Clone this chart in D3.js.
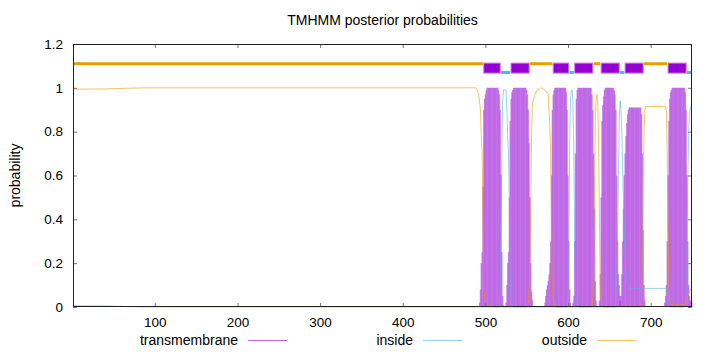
<!DOCTYPE html>
<html>
<head>
<meta charset="utf-8">
<script src="https://cdn.jsdelivr.net/npm/d3@7"></script>
<style>
  body { margin: 0; background: #fff; }
  svg { display: block; font-family: "Liberation Sans", Arial, sans-serif; }
  .axis text { font-size: 13.5px; fill: #000; }
</style>
</head>
<body>
<svg id="chart" width="720" height="352"></svg>
<script>
'use strict';

// residue range and ticks
var residueRange = [1, 750];
var xTickValues = [100, 200, 300, 400, 500, 600, 700];
var yTickValues = [0, 0.2, 0.4, 0.6, 0.8, 1, 1.2];

// predicted topology (top bar)
var topology = [
  ['outside', 1, 497], ['TMhelix', 498, 518], ['inside', 519, 530],
  ['TMhelix', 531, 553], ['outside', 554, 581], ['TMhelix', 582, 601],
  ['inside', 602, 607], ['TMhelix', 608, 630], ['outside', 631, 639],
  ['TMhelix', 640, 662], ['inside', 663, 668], ['TMhelix', 669, 691],
  ['outside', 692, 720], ['TMhelix', 721, 743], ['inside', 744, 750]
];

// inside probability, [residue, prob]
var insideProb = [
  [1, 0.006], [40, 0.005], [66, 0.002], [90, 0], [516, 0], [517, 0.02], [518, 0.1],
  [519, 0.4], [520, 0.75], [521, 0.95], [522, 0.99], [525, 0.99], [526, 0.9],
  [527, 0.78], [528, 0.7], [529, 0.48], [530, 0.12], [531, 0.03], [533, 0],
  [599, 0], [600, 0.05], [601, 0.35], [602, 0.75], [603, 0.95], [604, 0.99],
  [605, 0.99], [606, 0.93], [607, 0.7], [608, 0.3], [609, 0.08], [610, 0.02], [612, 0],
  [657, 0], [658, 0.05], [659, 0.15], [660, 0.35], [661, 0.6], [662, 0.85], [663, 0.94],
  [664, 0.9], [665, 0.8], [666, 0.65], [667, 0.5], [668, 0.35], [669, 0.25],
  [670, 0.17], [671, 0.12], [672, 0.1], [673, 0.09], [674, 0.085], [719, 0.085],
  [720, 0.06], [721, 0.03], [722, 0.01], [724, 0], [741, 0], [742, 0.02], [743, 0.08],
  [744, 0.3], [745, 0.6], [746, 0.8], [747, 0.88], [748, 0.91], [750, 0.92]
];

// outside probability, [residue, prob]
var outsideProb = [
  [1, 0.994], [40, 0.995], [66, 0.998], [90, 1], [488, 1], [490, 0.99], [492, 0.97],
  [494, 0.9], [495, 0.78], [496, 0.72], [497, 0.42], [498, 0.08], [500, 0.02],
  [503, 0.01], [510, 0], [550, 0], [552, 0.02], [554, 0.2], [555, 0.5], [556, 0.8],
  [557, 0.93], [560, 0.97], [563, 0.99], [567, 1], [572, 0.99], [576, 0.97],
  [577, 0.9], [578, 0.82], [579, 0.7], [580, 0.4], [581, 0.1], [582, 0.03], [584, 0.01],
  [586, 0], [629, 0], [630, 0.05], [631, 0.25], [632, 0.5], [633, 0.85], [634, 0.95],
  [635, 0.97], [636, 0.93], [637, 0.75], [638, 0.4], [639, 0.1], [640, 0.02], [642, 0],
  [688, 0], [689, 0.03], [690, 0.2], [691, 0.55], [692, 0.8], [693, 0.9], [694, 0.915],
  [718, 0.915], [719, 0.9], [720, 0.7], [721, 0.35], [722, 0.1], [723, 0.03],
  [725, 0.01], [742, 0.01], [744, 0.03], [746, 0.06], [748, 0.08], [750, 0.08]
];

// transmembrane probability per residue, only where it is non zero
var tmStarts = [493, 525, 572, 606, 638, 663, 717];
var tmValues = [
  [0.02, 0.08, 0.2, 0.25, 0.55, 0.9, 0.95, 0.97, 0.99,
   1, 1, 1, 1, 1, 1, 1, 1, 1, 1, 1, 1, 1, 1,
   0.99, 0.97, 0.9, 0.6, 0.25, 0.05, 0.01],
  [0.02, 0.1, 0.2, 0.25, 0.5, 0.85, 0.95, 0.98, 0.99,
   1, 1, 1, 1, 1, 1, 1, 1, 1, 1, 1, 1, 1, 1, 1, 1,
   0.99, 0.97, 0.9, 0.75, 0.5, 0.2, 0.07, 0.03],
  [0.02, 0.05, 0.08, 0.1, 0.12, 0.15, 0.2, 0.3, 0.6, 0.9, 0.97, 0.99,
   1, 1, 1, 1, 1, 1, 1, 1, 1, 1, 1, 1, 1, 1,
   0.98, 0.9, 0.6, 0.3, 0.08, 0.02],
  [0.02, 0.05, 0.3, 0.7, 0.95, 0.99,
   1, 1, 1, 1, 1, 1, 1, 1, 1, 1, 1, 1, 1, 1, 1, 1, 1,
   0.97, 0.9, 0.7, 0.45, 0.12, 0.03],
  [0.03, 0.15, 0.5, 0.85, 0.92, 0.96, 0.99,
   1, 1, 1, 1, 1, 1, 1, 1, 1, 1, 1,
   0.99, 0.97, 0.9, 0.6, 0.3, 0.15, 0.1, 0.05],
  [0.03, 0.05, 0.15, 0.3, 0.45, 0.6, 0.7, 0.78, 0.84, 0.88, 0.9,
   0.91, 0.91, 0.91, 0.91, 0.91, 0.91, 0.91, 0.91, 0.91, 0.91, 0.91, 0.91, 0.91, 0.91, 0.91,
   0.88, 0.7, 0.35, 0.1, 0.03],
  [0.02, 0.05, 0.1, 0.3, 0.6, 0.85, 0.95, 0.98, 0.99,
   1, 1, 1, 1, 1, 1, 1, 1, 1, 1, 1, 1, 1, 1, 1, 1,
   0.98, 0.9, 0.6, 0.3, 0.1, 0.05, 0.03, 0.02, 0.02]
];

var legendNames = ['transmembrane', 'inside', 'outside'];
var colTM = '#9400d3', colIn = '#56b4e9', colOut = '#e69f00';

function DrawTMHMM(vSelector)
{
  var svg = d3.select(vSelector);
  var nLeft = 73, nRight = 692, nTop = 44, nBottom = 307;

  var x = d3.scaleLinear().domain(residueRange).range([nLeft, nRight]);
  var y = d3.scaleLinear().domain([0, 1.2]).range([nBottom, nTop]);

  // impulses
  var aImpulses = [];
  tmStarts.forEach((s, i) => {
    tmValues[i].forEach((v, j) => aImpulses.push([s + j, v]));
  });

  svg.append('g')
    .selectAll('line')
    .data(aImpulses)
    .join('line')
      .attr('x1', d => x(d[0]))
      .attr('x2', d => x(d[0]))
      .attr('y1', y(0))
      .attr('y2', d => y(d[1]))
      .attr('stroke', colTM)
      .attr('stroke-opacity', 0.42)
      .attr('stroke-width', 1.4);

  var line = d3.line().x(d => x(d[0])).y(d => y(d[1]));

  svg.append('path')
    .datum(insideProb)
    .attr('d', line)
    .attr('fill', 'none')
    .attr('stroke', colIn)
    .attr('stroke-opacity', 0.6)
    .attr('stroke-width', 1);

  svg.append('path')
    .datum(outsideProb)
    .attr('d', line)
    .attr('fill', 'none')
    .attr('stroke', colOut)
    .attr('stroke-opacity', 0.6)
    .attr('stroke-width', 1);

  // topology bar
  var gTop = svg.append('g');
  gTop.selectAll('line')
    .data(topology.filter(d => d[0] != 'TMhelix'))
    .join('line')
      .attr('x1', d => x(d[1]))
      .attr('x2', d => x(d[2]))
      .attr('y1', d => y(d[0] == 'outside' ? 1.11 : 1.07))
      .attr('y2', d => y(d[0] == 'outside' ? 1.11 : 1.07))
      .attr('stroke', d => d[0] == 'outside' ? colOut : colIn)
      .attr('stroke-width', 3);

  gTop.selectAll('rect')
    .data(topology.filter(d => d[0] == 'TMhelix'))
    .join('rect')
      .attr('x', d => x(d[1]))
      .attr('width', d => x(d[2]) - x(d[1]))
      .attr('y', y(1.113))
      .attr('height', y(1.067) - y(1.113))
      .attr('fill', colTM)
      .attr('stroke', '#c68be6')
      .attr('stroke-width', 1);

  // axes with inward ticks (mirrored)
  var fmt = d3.format('~g');
  svg.append('g').attr('class', 'axis')
    .attr('transform', `translate(0,${nBottom})`)
    .call(d3.axisBottom(x).tickValues(xTickValues).tickSize(-4).tickPadding(10).tickFormat(fmt));
  svg.append('g').attr('class', 'axis')
    .attr('transform', `translate(0,${nTop})`)
    .call(d3.axisTop(x).tickValues(xTickValues).tickSize(-4).tickFormat(''));
  svg.append('g').attr('class', 'axis')
    .attr('transform', `translate(${nLeft},0)`)
    .call(d3.axisLeft(y).tickValues(yTickValues).tickSize(-4).tickPadding(10).tickFormat(fmt));
  svg.append('g').attr('class', 'axis')
    .attr('transform', `translate(${nRight},0)`)
    .call(d3.axisRight(y).tickValues(yTickValues).tickSize(-4).tickFormat(''));

  svg.selectAll('.axis .domain').remove();
  svg.selectAll('.axis .tick line').attr('stroke', '#777');

  svg.append('rect')
    .attr('x', nLeft + 0.5)
    .attr('y', nTop + 0.5)
    .attr('width', nRight - nLeft - 1)
    .attr('height', nBottom - nTop - 1)
    .attr('fill', 'none')
    .attr('stroke', '#222')
    .attr('stroke-width', 1);

  // title and y label
  svg.append('text')
    .attr('x', (nLeft + nRight) / 2)
    .attr('y', 25)
    .attr('text-anchor', 'middle')
    .style('font-size', '14px')
    .text('TMHMM posterior probabilities');

  svg.append('text')
    .attr('transform', `translate(20,${(nTop + nBottom) / 2}) rotate(-90)`)
    .attr('text-anchor', 'middle')
    .style('font-size', '14px')
    .text('probability');

  // legend below
  var aLegX = [238, 413, 587];
  var aLegCol = [colTM, colIn, colOut];
  var gLeg = svg.append('g');
  legendNames.forEach((n, i) => {
    gLeg.append('text')
      .attr('x', aLegX[i])
      .attr('y', 345)
      .attr('text-anchor', 'end')
      .style('font-size', '14px')
      .text(n);
    gLeg.append('line')
      .attr('x1', aLegX[i] + 10)
      .attr('x2', aLegX[i] + 49)
      .attr('y1', 340.5)
      .attr('y2', 340.5)
      .attr('stroke', aLegCol[i])
      .attr('stroke-opacity', 0.6)
      .attr('stroke-width', 1);
  });
}

DrawTMHMM('#chart');
</script>
</body>
</html>
